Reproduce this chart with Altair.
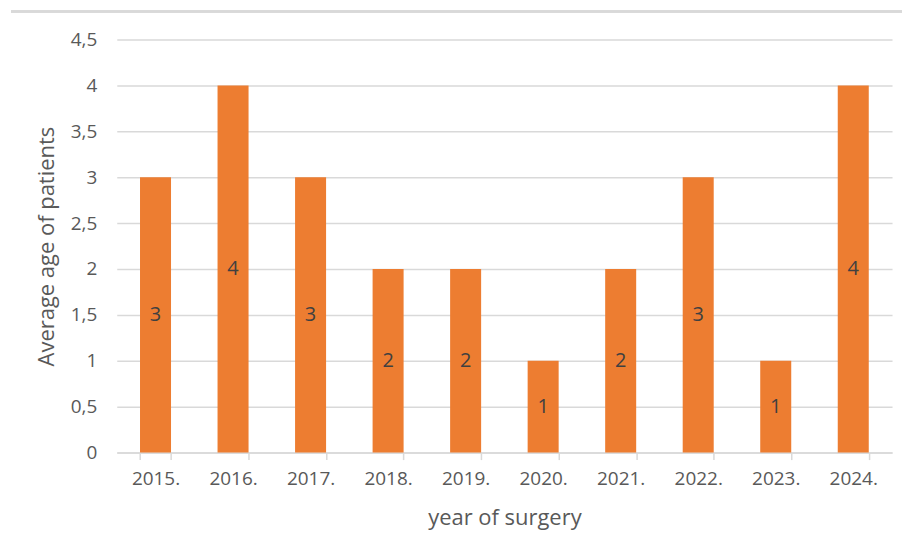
import altair as alt
import pandas as pd

years = ["2015.", "2016.", "2017.", "2018.", "2019.", "2020.", "2021.", "2022.", "2023.", "2024."]
values = [3, 4, 3, 2, 2, 1, 2, 3, 1, 4]

df = pd.DataFrame({"year": years, "value": values})
df["mid"] = df["value"] / 2

FONT = "Open Sans"

x = alt.X("year:N", sort=years, title="year of surgery",
          scale=alt.Scale(paddingInner=0.6, paddingOuter=0.3),
          axis=alt.Axis(labelAngle=0, labelFontSize=19, labelColor="#595959", labelFont=FONT,
                        titleFontSize=22, titleColor="#595959", titleFont=FONT, titleFontWeight="normal",
                        titlePadding=19, labelPadding=10,
                        domainColor="#D9D9D9", domainWidth=1.5, tickColor="#D9D9D9", tickWidth=1.5,
                        tickSize=7, tickBand="extent", grid=False))

bars = alt.Chart(df).mark_bar(color="#ED7D31").encode(
    x=x,
    y=alt.Y("value:Q", title="Average age of patients",
            scale=alt.Scale(domain=[0, 4.5], nice=False),
            axis=alt.Axis(values=[0, 0.5, 1, 1.5, 2, 2.5, 3, 3.5, 4, 4.5], format=".1~f",
                          labelExpr="replace(datum.label, '.', ',')",
                          labelFontSize=19, labelColor="#595959", labelFont=FONT, labelPadding=20,
                          titleFontSize=22, titleColor="#595959", titleFont=FONT, titleFontWeight="normal",
                          titlePadding=12,
                          domain=False, ticks=False, gridColor="#D9D9D9", gridWidth=1.5)),
)

labels = alt.Chart(df).mark_text(fontSize=20, color="#404040", font=FONT, baseline="middle").encode(
    x=alt.X("year:N", sort=years),
    y=alt.Y("mid:Q"),
    text=alt.Text("value:Q"),
)

border = alt.Chart(df).mark_rule(color="#D9D9D9", strokeWidth=2, clip=False).encode(
    x=alt.value(-106), x2=alt.value(800), y=alt.value(-28)
)

chart = alt.layer(bars, labels, border).properties(
    width=777, height=414,
    autosize=alt.AutoSizeParams(type="none"),
    padding={"left": 109, "top": 31, "right": 10, "bottom": 80},
).configure_view(stroke=None)

chart.save("out.html", embed_options={"renderer": "svg", "actions": False})
